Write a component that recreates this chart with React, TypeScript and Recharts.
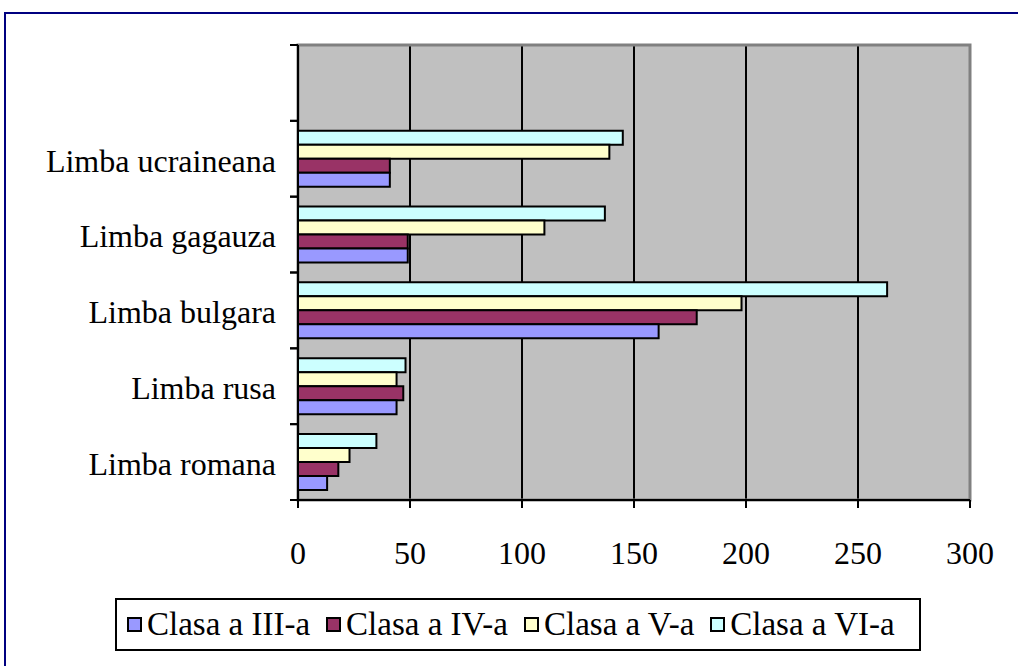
import React from 'react';
import { BarChart, Bar, XAxis, YAxis, CartesianGrid, ReferenceArea } from 'recharts';

// categories from bottom to top, the last one is an empty row in the sheet
const categories = ['Limba romana', 'Limba rusa', 'Limba bulgara', 'Limba gagauza', 'Limba ucraineana', ''];
const clasa3 = [13, 44, 161, 49, 41, null];
const clasa4 = [18, 47, 178, 49, 41, null];
const clasa5 = [23, 44, 198, 110, 139, null];
const clasa6 = [35, 48, 263, 137, 145, null];
const valueTicks = [0, 50, 100, 150, 200, 250, 300];

const series = [
  { key: 'c3', name: 'Clasa a III-a', values: clasa3, color: '#9999ff' },
  { key: 'c4', name: 'Clasa a IV-a', values: clasa4, color: '#993366' },
  { key: 'c5', name: 'Clasa a V-a', values: clasa5, color: '#ffffcc' },
  { key: 'c6', name: 'Clasa a VI-a', values: clasa6, color: '#ccffff' },
];

const data = categories.map((name, i) => {
  const row: Record<string, string | number | null> = { name };
  series.forEach(s => { row[s.key] = s.values[i]; });
  return row;
});

const FONT = '"Liberation Serif", "Times New Roman", serif';
const TICK_SIZE = 8;
const TICK_MARGIN = 14;

// Excel puts the category tick marks between the bands, labels in the middle
const CategoryTick = (props: any) => {
  const { x, y, payload } = props;
  const half = payload.offset ?? 0;
  const axisX = x + TICK_MARGIN + TICK_SIZE;
  return (
    <g>
      <line x1={axisX - TICK_SIZE} x2={axisX} y1={y - half} y2={y - half} stroke="#000" strokeWidth={2} />
      <line x1={axisX - TICK_SIZE} x2={axisX} y1={y + half} y2={y + half} stroke="#000" strokeWidth={2} />
      <text x={x} y={y} dy="0.4em" textAnchor="end" fill="#000" fontSize={32} fontFamily={FONT}>
        {payload.value}
      </text>
    </g>
  );
};

const Legend = () => (
  <div
    style={{
      position: 'absolute',
      left: 115,
      top: 598,
      width: 806,
      height: 53,
      boxSizing: 'border-box',
      border: '2px solid #000',
      background: '#fff',
      display: 'flex',
      alignItems: 'center',
      paddingLeft: 10,
      gap: 16,
      fontFamily: FONT,
      fontSize: 33,
      whiteSpace: 'nowrap',
    }}
  >
    {series.map(s => (
      <div key={s.key} style={{ display: 'flex', alignItems: 'center' }}>
        <span
          style={{
            display: 'inline-block',
            width: 11,
            height: 11,
            border: '2px solid #000',
            background: s.color,
            marginRight: 5,
          }}
        />
        <span>{s.name}</span>
      </div>
    ))}
  </div>
);

const App = () => {
  return (
    <div style={{ position: 'absolute', left: 0, top: 0, width: 1018, height: 666, background: '#fff', overflow: 'hidden' }}>
      <div style={{ position: 'absolute', left: 4, top: 12, right: -10, bottom: -10, borderTop: '2px solid #000080', borderLeft: '2px solid #000080' }} />
      <BarChart
        width={1018}
        height={666}
        data={data}
        layout="vertical"
        margin={{ top: 45, right: 48, left: 0, bottom: 106 }}
        barCategoryGap="13%"
        barGap={0}
        style={{ position: 'absolute', left: 0, top: 0 }}
      >
        <CartesianGrid horizontal={false} fill="#c0c0c0" fillOpacity={1} stroke="#000" strokeWidth={2} />
        <XAxis
          type="number"
          domain={[0, 300]}
          ticks={valueTicks}
          interval={0}
          height={60}
          axisLine={{ stroke: '#000', strokeWidth: 2 }}
          tickLine={{ stroke: '#000', strokeWidth: 2 }}
          tickSize={TICK_SIZE}
          tickMargin={33}
          tick={{ fill: '#000', fontSize: 32, fontFamily: FONT }}
        />
        <YAxis
          type="category"
          dataKey="name"
          reversed
          width={298}
          interval={0}
          axisLine={{ stroke: '#000', strokeWidth: 2 }}
          tickLine={false}
          tickSize={TICK_SIZE}
          tickMargin={TICK_MARGIN}
          tick={<CategoryTick />}
        />
        <ReferenceArea x1={0} x2={300} fill="none" stroke="#808080" strokeWidth={3} ifOverflow="visible" />
        {[...series].reverse().map(s => (
          <Bar key={s.key} dataKey={s.key} name={s.name} fill={s.color} stroke="#000" strokeWidth={2} isAnimationActive={false} />
        ))}
      </BarChart>
      <Legend />
    </div>
  );
};

export default App;
